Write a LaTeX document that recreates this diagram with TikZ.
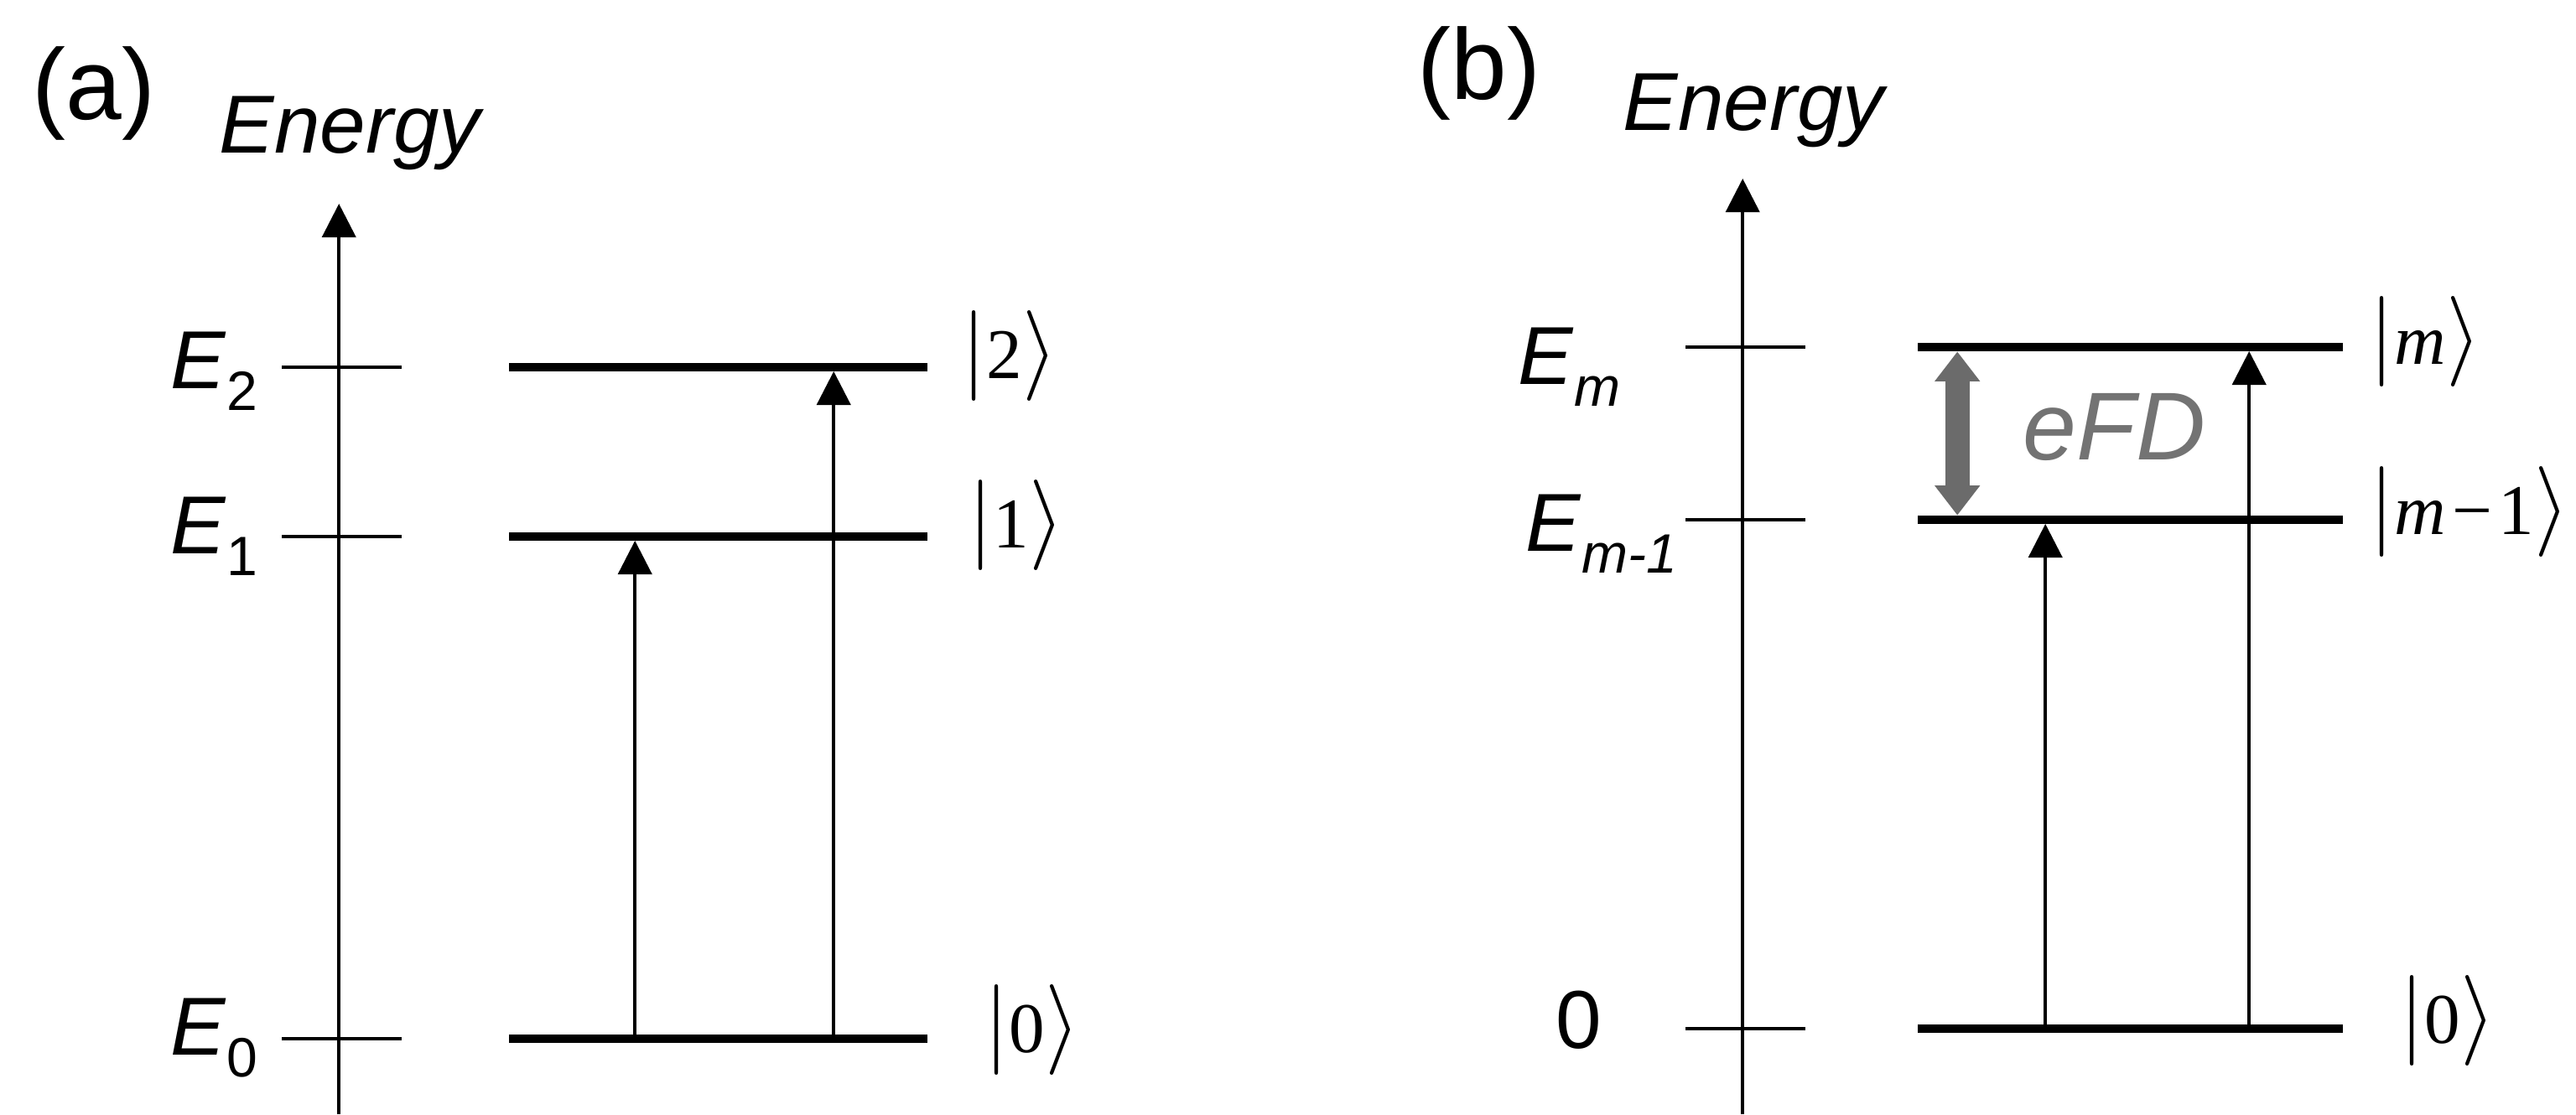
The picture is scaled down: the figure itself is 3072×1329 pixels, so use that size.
\documentclass[tikz,border=0pt]{standalone}
\usepackage{graphicx}
\usepackage{fontspec}
\setmainfont{Liberation Sans}
\newfontfamily\ketfont{Liberation Serif}
\usetikzlibrary{arrows.meta}
\definecolor{gapgray}{gray}{0.42}
\definecolor{labelgray}{gray}{0.45}
\newlength{\LevelWidth}
\setlength{\LevelWidth}{2.85pt}
\newcommand{\elab}[1]{\textit{E}\raisebox{-7.4pt}{\fontsize{18.8pt}{22pt}\selectfont #1}}
\newcommand{\ketbar}[1]{\scalebox{3.07}{\fontsize{10pt}{12pt}\selectfont$#1$}}
\newcommand{\statelab}[1]{\ketbar{|}\mbox{\ketfont\fontsize{24.2pt}{28pt}\selectfont #1}\ketbar{\rangle}}
\tikzset{
  level line/.style={line width=\LevelWidth},
  tick line/.style={line width=1.14pt},
  energy axis/.style={line width=1.14pt, -{Triangle[length=11.4pt, width=11.4pt]}},
  trans arrow/.style={line width=1.14pt, -{Triangle[length=11.4pt, width=11.4pt]}, shorten >=1.4pt},
  gap arrow/.style={line width=8.3pt, gapgray,
    {Triangle[length=10pt, width=15.4pt, line width=0pt]}-{Triangle[length=10pt, width=15.4pt, line width=0pt]},
    shorten <=1.6pt, shorten >=1.6pt},
  tag label/.style={anchor=base west, inner sep=0pt, font=\fontsize{34.1pt}{40pt}\selectfont},
  axis label/.style={anchor=base west, inner sep=0pt, font=\fontsize{27.9pt}{33pt}\selectfont\itshape},
  energy label/.style={anchor=base west, inner sep=0pt, font=\fontsize{27.9pt}{33pt}\selectfont},
  ket label/.style={anchor=west, inner sep=0pt},
  gap label/.style={anchor=base west, inner sep=0pt, labelgray, font=\fontsize{32.7pt}{38pt}\selectfont\itshape},
}

\begin{document}
\begin{tikzpicture}[x=0.01cm, y=-0.01cm]
  \useasboundingbox (0,0) rectangle (3072,1329);

  % (a) three levels
  \begin{scope}[xshift=4.04cm]
    \coordinate (a-bot) at (0,1329);
    \coordinate (a-top) at (0,243);
    \draw[energy axis] (a-bot) -- (a-top);

    \coordinate (a-c1) at (353,0);
    \coordinate (a-c2) at (590,0);
    \foreach \n/\y in {0/1239,1/640,2/438} {
      \draw[tick line] (-68,\y) coordinate (a-T\n) -- (75,\y);
      \coordinate (a-L\n) at (203,\y);
    }
    \draw[trans arrow] (a-c1 |- a-L0) -- (a-c1 |- a-L1);
    \draw[trans arrow] (a-c2 |- a-L0) -- (a-c2 |- a-L2);
    \foreach \n in {0,1,2}
      \draw[level line] (a-L\n) -- ++(499,0) coordinate (a-R\n);

    \node[tag label] (a-tag) at (-366,142) {(a)};
    \node[axis label] (a-energy) at (-143,182) {Energy};
    \node[energy label] (a-E2) at (-201,463) {\elab{2}};
    \node[energy label] (a-E1) at (-201,660) {\elab{1}};
    \node[energy label] (a-E0) at (-201,1258) {\elab{0}};
    \node[ket label] (a-k2) at (742,424) {\statelab{2}};
    \node[ket label] (a-k1) at (750,626) {\statelab{1}};
    \node[ket label] (a-k0) at (769,1228) {\statelab{0}};
  \end{scope}

  % (b) ladder with spacing eFD
  \begin{scope}[xshift=20.77cm]
    \coordinate (b-bot) at (0,1329);
    \coordinate (b-top) at (0,213);
    \draw[energy axis] (b-bot) -- (b-top);

    \coordinate (b-c1) at (361,0);
    \coordinate (b-c2) at (604,0);
    \coordinate (b-g) at (256,0);
    \foreach \n/\y in {0/1227,1/620,2/414} {
      \draw[tick line] (-68,\y) coordinate (b-T\n) -- (75,\y);
      \coordinate (b-L\n) at (209,\y);
    }
    \draw[trans arrow] (b-c1 |- b-L0) -- (b-c1 |- b-L1);
    \draw[trans arrow] (b-c2 |- b-L0) -- (b-c2 |- b-L2);
    \draw[gap arrow] (b-g |- b-L2) -- (b-g |- b-L1);
    \foreach \n in {0,1,2}
      \draw[level line] (b-L\n) -- ++(507,0) coordinate (b-R\n);

    \node[tag label] (b-tag) at (-388,118) {(b)};
    \node[axis label] (b-energy) at (-143,155) {Energy};
    \node[energy label] (b-Em) at (-268,458) {\elab{\itshape m}};
    \node[energy label] (b-Em1) at (-259,657) {\elab{\itshape m-1}};
    \node[energy label] (b-E0) at (-223,1250) {0};
    \node[gap label] (b-gap) at (334,548) {eFD};
    \node[ket label] (b-km) at (747,407) {\statelab{\itshape m}};
    \node[ket label] (b-km1) at (747,610) {\statelab{{\itshape m}\kern2pt−\kern2pt1}};
    \node[ket label] (b-k0) at (783,1217) {\statelab{0}};
  \end{scope}

\end{tikzpicture}
\end{document}
